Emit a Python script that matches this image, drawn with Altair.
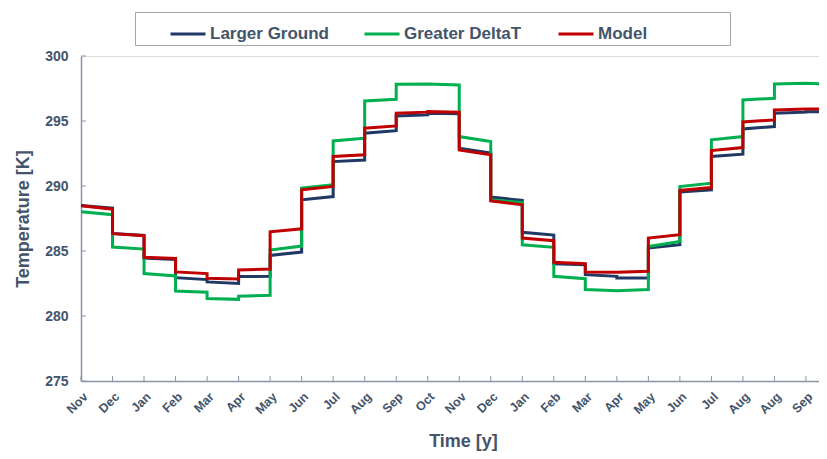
import altair as alt
import pandas as pd

# Month tick labels (as printed on the original axis)
month_labels = ["Nov", "Dec", "Jan", "Feb", "Mar", "Apr", "May", "Jun", "Jul", "Aug",
                "Sep", "Oct", "Nov", "Dec", "Jan", "Feb", "Mar", "Apr", "May", "Jun",
                "Jul", "Aug", "Aug", "Sep"]

series_names = ["Larger Ground", "Greater DeltaT", "Model"]

# Temperature at the start and end of each monthly step [K]
larger_ground_start = [288.50, 286.35, 284.45, 282.95, 282.62, 283.03, 284.66, 288.94,
                       291.88, 294.06, 295.39, 295.60, 292.90, 289.15, 286.44, 284.02,
                       283.18, 282.92, 285.23, 289.53, 292.27, 294.39, 295.60, 295.72]
larger_ground_end = [288.30, 286.20, 284.35, 282.80, 282.50, 283.05, 284.92, 289.19,
                     292.00, 294.26, 295.47, 295.55, 292.53, 288.89, 286.23, 283.95,
                     283.05, 282.92, 285.48, 289.71, 292.45, 294.57, 295.68, 295.70]

greater_deltat_start = [288.02, 285.30, 283.26, 281.92, 281.34, 281.52, 285.07, 289.84,
                        293.47, 296.54, 297.82, 297.85, 293.80, 288.94, 285.48, 283.05,
                        282.03, 281.95, 285.35, 289.96, 293.55, 296.62, 297.85, 297.90]
greater_deltat_end = [287.79, 285.15, 283.08, 281.83, 281.28, 281.60, 285.38, 290.09,
                      293.68, 296.67, 297.85, 297.77, 293.42, 288.73, 285.28, 282.87,
                      281.95, 282.03, 285.74, 290.22, 293.80, 296.75, 297.90, 297.83]

model_start = [288.48, 286.33, 284.51, 283.39, 282.90, 283.54, 286.48, 289.71,
               292.27, 294.45, 295.60, 295.72, 292.78, 288.86, 286.00, 284.13,
               283.39, 283.36, 286.00, 289.66, 292.73, 294.93, 295.85, 295.93]
model_end = [288.22, 286.18, 284.43, 283.26, 282.85, 283.62, 286.71, 289.96,
             292.40, 294.62, 295.68, 295.68, 292.40, 288.56, 285.79, 284.02,
             283.36, 283.44, 286.25, 289.88, 292.96, 295.08, 295.93, 295.90]

y_ticks = [275, 280, 285, 290, 295, 300]

colors = ["#1F3864", "#00B050", "#C00000"]
text_color = "#44546A"
axis_color = "#8A94A6"
font = "Liberation Sans"

rows = []
for name, starts, ends in [
    ("Larger Ground", larger_ground_start, larger_ground_end),
    ("Greater DeltaT", greater_deltat_start, greater_deltat_end),
    ("Model", model_start, model_end),
]:
    for i, (s, e) in enumerate(zip(starts, ends)):
        rows.append({"series": name, "t": i, "temp": s, "seq": 2 * i})
        rows.append({"series": name, "t": i + 1, "temp": e, "seq": 2 * i + 1})
df = pd.DataFrame(rows)

x_max = 23.414
x_scale = alt.Scale(domain=[0, x_max], nice=False, zero=False)
y_scale = alt.Scale(domain=[275, 300], nice=False, zero=False)

label_expr = "[" + ",".join("'%s'" % m for m in month_labels) + "][datum.value]"

x_axis = alt.Axis(values=list(range(len(month_labels))), labelExpr=label_expr,
                  labelAngle=-45, labelAlign="right", labelBaseline="top",
                  labelFontSize=12.5, labelFontWeight="bold", labelColor=text_color,
                  labelPadding=9, labelOverlap=False, labelBound=False,
                  ticks=False, domainColor=axis_color, domainWidth=1.5,
                  grid=False, title="Time [y]", titleFontSize=18,
                  titleFontWeight="bold", titleColor=text_color, titleX=382,
                  titleY=65, titleBaseline="alphabetic")
y_axis = alt.Axis(values=y_ticks, labelFontSize=14, labelFontWeight="bold",
                  labelColor=text_color, labelPadding=13, ticks=False,
                  domainColor=axis_color, domainWidth=1.5, grid=False,
                  title="Temperature [K]", titleFontSize=18,
                  titleFontWeight="bold", titleColor=text_color,
                  titlePadding=12)

lines = alt.Chart(df).mark_line(strokeWidth=3, clip=True, strokeJoin="miter").encode(
    x=alt.X("t:Q", scale=x_scale, axis=x_axis),
    y=alt.Y("temp:Q", scale=y_scale, axis=y_axis),
    color=alt.Color("series:N", scale=alt.Scale(domain=series_names, range=colors),
                    legend=alt.Legend(orient="none", legendX=54, legendY=-44,
                                      direction="horizontal", title=" ",
                                      titleOrient="right", titlePadding=80,
                                      titleFontSize=4,
                                      symbolType="stroke", symbolSize=1225,
                                      symbolStrokeWidth=3, symbolOffset=31,
                                      labelFontSize=17, labelFontWeight="bold",
                                      labelColor=text_color, labelOffset=3,
                                      columnPadding=2, gridAlign="all",
                                      padding=3, strokeColor="#A6A6A6",
                                      fillColor="white", labelLimit=300)),
    order=alt.Order("seq:Q"),
)

x_tick_df = pd.DataFrame({"t": list(range(len(month_labels)))})
x_ticks = alt.Chart(x_tick_df).mark_rule(color=axis_color, strokeWidth=1).encode(
    x=alt.X("t:Q", scale=x_scale, axis=x_axis),
    y=alt.value(325),
    y2=alt.value(320),
)

y_tick_df = pd.DataFrame({"temp": y_ticks})
y_tick_marks = alt.Chart(y_tick_df).mark_rule(color=axis_color, strokeWidth=1).encode(
    y=alt.Y("temp:Q", scale=y_scale, axis=y_axis),
    x=alt.value(0),
    x2=alt.value(5),
)

chart = alt.layer(x_ticks, y_tick_marks, lines).properties(
    width=738,
    height=325,
    padding={"left": 73, "top": 48, "right": 0, "bottom": 70},
    autosize=alt.AutoSizeParams(type="none"),
).configure_view(stroke=None).configure(font=font)

chart.save("out.html", embed_options={"renderer": "svg", "actions": False})
